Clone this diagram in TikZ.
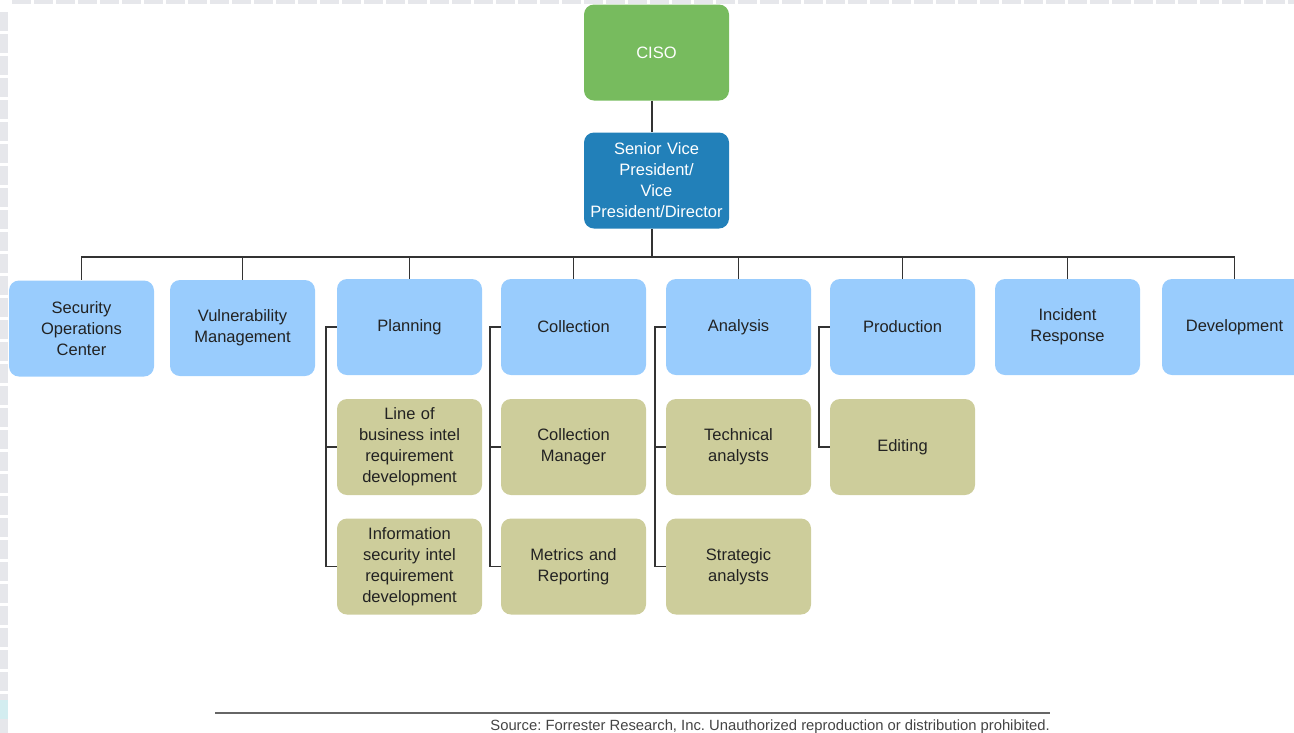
\documentclass[tikz,border=0pt]{standalone}
\usepackage{fontspec}
\setmainfont{Liberation Sans}
\frenchspacing
\definecolor{cisogreen}{HTML}{77BB5E}
\definecolor{svpblue}{HTML}{2280B9}
\definecolor{lblue}{HTML}{99CCFD}
\definecolor{olive}{HTML}{CDCD9B}
\definecolor{tile}{HTML}{E6E7EB}
\definecolor{tilecyan}{HTML}{D3EDF0}
\definecolor{txt}{HTML}{222222}
\definecolor{linec}{HTML}{333333}
\definecolor{srcgray}{HTML}{444444}
\begin{document}
\begin{tikzpicture}[x=1pt,y=-1pt,
  box/.style={rounded corners=10pt, minimum width=145pt, minimum height=96pt,
    text width=143pt, align=center, inner sep=0pt,
    font=\fontsize{16.5pt}{21pt}\selectfont, text=txt},
  topbox/.style={box, fill=cisogreen, text=white},
  vpbox/.style={box, fill=svpblue, text=white},
  deptbox/.style={box, fill=lblue},
  subbox/.style={box, fill=olive},
  conn/.style={draw=linec, line width=1.4pt}]
\useasboundingbox (0,0) rectangle (1294,732);
\clip (0,0) rectangle (1294,732);
% page edge tiles
\foreach \i in {0,...,58} {
  \fill[tile] (12+22*\i,0) rectangle (31+22*\i,4);
}
\foreach \j in {0,...,32} {
  \fill[tile] (0,12+22*\j) rectangle (8,31+22*\j);
}
\fill[tilecyan] (0,700) rectangle (8,719);
% top
\node[topbox] (ciso) at (656.5,52.5) {CISO};
\node[vpbox] (svp) at (656.5,180.5) {Senior Vice\\President/\\Vice\\President/Director};
% departments
\node[deptbox] (soc) at (81.5,328.5) {Security\\Operations\\Center};
\node[deptbox] (vm) at (242.5,328) {Vulnerability\\Management};
\node[deptbox] (plan) at (409.5,327) {Planning};
\node[deptbox] (coll) at (573.5,327) {Collection};
\node[deptbox] (ana) at (738.5,327) {Analysis};
\node[deptbox] (prod) at (902.5,327) {Production};
\node[deptbox] (ir) at (1067.5,327) {Incident\\Response};
\node[deptbox] (dev) at (1234.5,327) {Development};
% sub units
\node[subbox] (plan1) at (409.5,447) {Line of\\business intel\\requirement\\development};
\node[subbox] (plan2) at (409.5,566.5) {Information\\security intel\\requirement\\development};
\node[subbox] (coll1) at (573.5,447) {Collection\\Manager};
\node[subbox] (coll2) at (573.5,566.5) {Metrics and\\Reporting};
\node[subbox] (ana1) at (738.5,447) {Technical\\analysts};
\node[subbox] (ana2) at (738.5,566.5) {Strategic\\analysts};
\node[subbox] (prod1) at (902.5,447) {Editing};
% hierarchy connectors
\coordinate (bus) at (652,257);
\draw[conn] (ciso.south -| bus) -- (svp.north -| bus);
\draw[conn] (svp.south -| bus) -- (bus);
\foreach \n in {soc,vm,plan,coll,ana,prod,ir,dev} {
  \draw[conn] (bus) -| (\n.north);
}
% brackets
\draw[conn] (plan.west) -- ++(-11,0) coordinate (pb) |- (plan2.west);
\draw[conn] (pb) |- (plan1.west);
\draw[conn] (coll.west) -- ++(-11,0) coordinate (cb) |- (coll2.west);
\draw[conn] (cb) |- (coll1.west);
\draw[conn] (ana.west) -- ++(-11,0) coordinate (ab) |- (ana2.west);
\draw[conn] (ab) |- (ana1.west);
\draw[conn] (prod.west) -- ++(-11,0) |- (prod1.west);
% footer
\coordinate (fl) at (215,713);
\coordinate (fr) at (1050,713);
\draw[draw=gray!80!black, line width=1.2pt] (fl) -- (fr);
\node[anchor=north east, inner sep=0pt, text=srcgray, font=\fontsize{14.8pt}{16pt}\selectfont] (src) at (1050,720) {Source: Forrester Research, Inc. Unauthorized reproduction or distribution prohibited.};
\end{tikzpicture}
\end{document}
